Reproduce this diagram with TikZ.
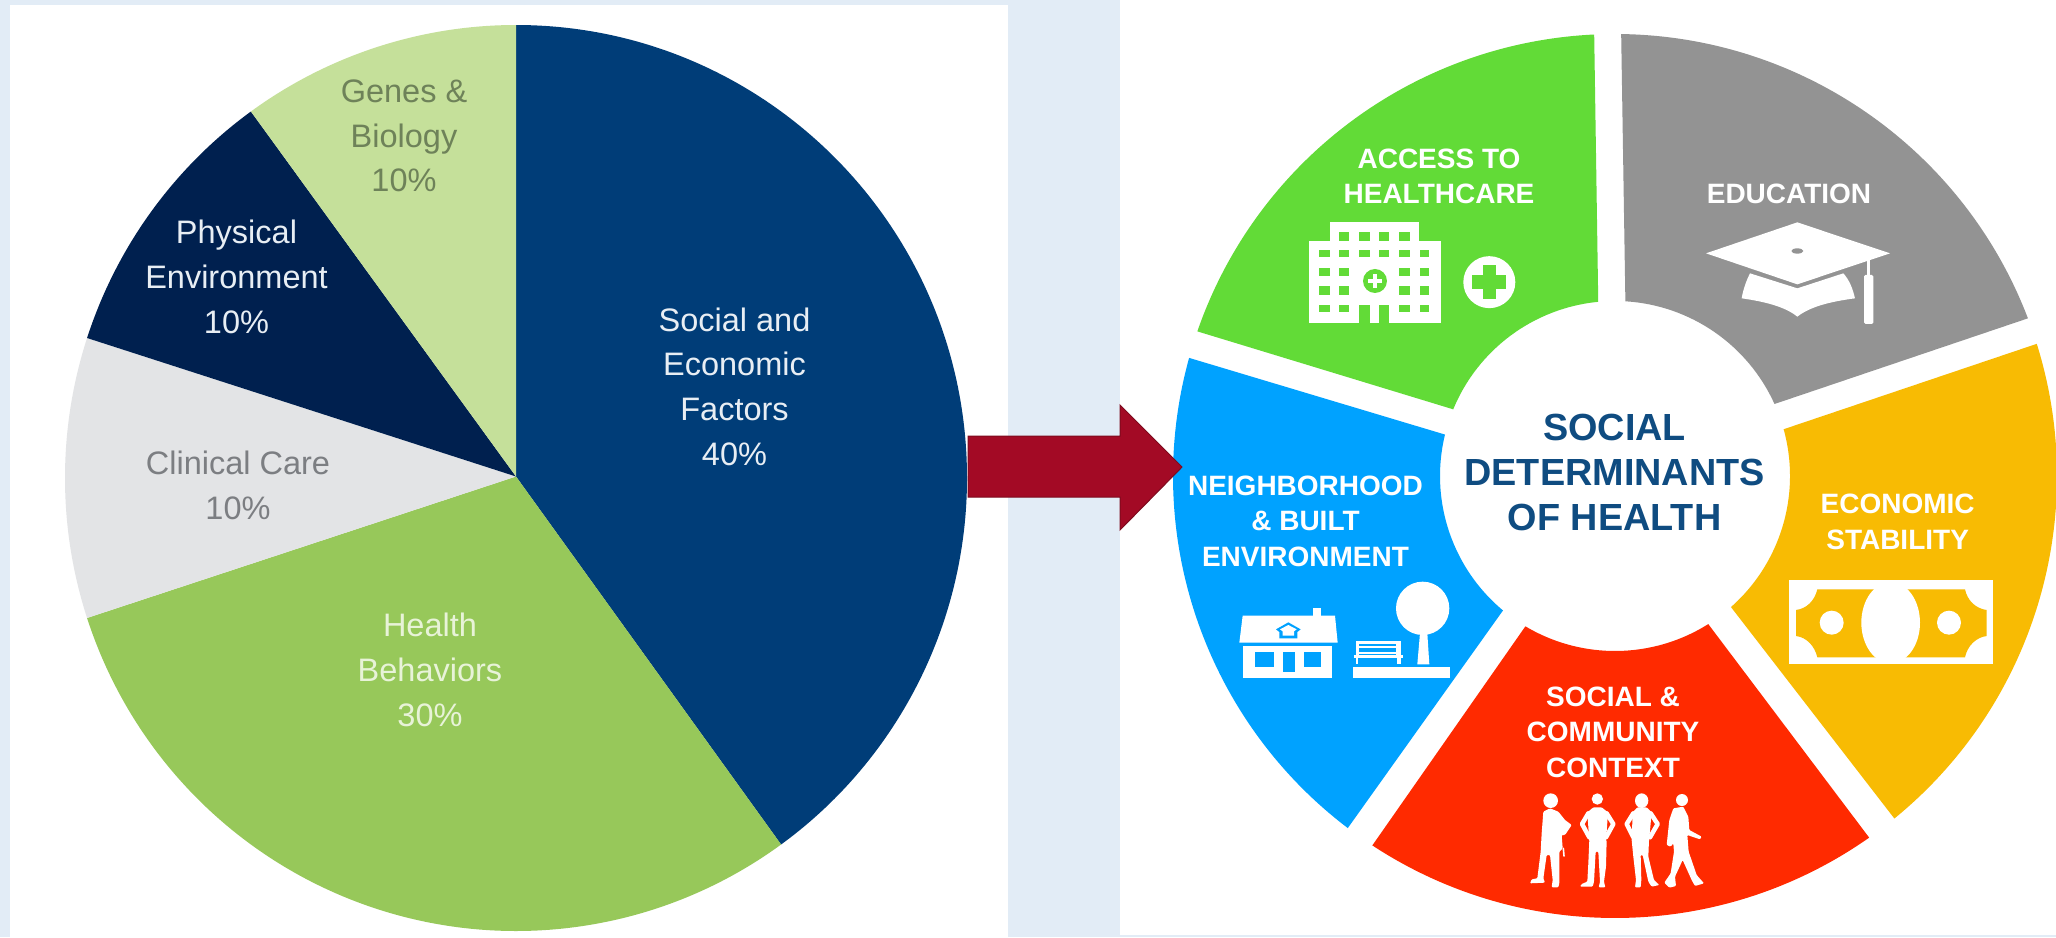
\documentclass[tikz,border=0pt]{standalone}
\usepackage{fontspec}
\setmainfont{Liberation Sans}
\definecolor{panelblue}{HTML}{E2ECF6}
\definecolor{pieDark}{HTML}{003D78}
\definecolor{pieGreen}{HTML}{97C85A}
\definecolor{pieGrey}{HTML}{E3E4E6}
\definecolor{pieNavy}{HTML}{00204F}
\definecolor{piePale}{HTML}{C5E09A}
\definecolor{wGreen}{HTML}{62DB37}
\definecolor{wGrey}{HTML}{939393}
\definecolor{wYellow}{HTML}{F8BB03}
\definecolor{wRed}{HTML}{FF2A00}
\definecolor{wBlue}{HTML}{00A2FF}
\definecolor{arrowRed}{HTML}{A30A25}
\definecolor{arrowEdge}{HTML}{7E0A1E}
\definecolor{titleBlue}{HTML}{0F4C81}
\definecolor{genesText}{HTML}{6E8259}
\definecolor{careText}{HTML}{7C7E82}
\definecolor{healthText}{HTML}{E8F3D8}
\definecolor{lightText}{HTML}{E8EEF4}
\tikzset{
  pielabel/.style={align=center,inner sep=0pt,font=\fontsize{32.5}{44.7}\selectfont},
  wheellabel/.style={align=center,inner sep=0pt,text=white,font=\fontsize{28}{35.4}\selectfont\bfseries},
  titlelabel/.style={align=center,inner sep=0pt,text=titleBlue,font=\fontsize{37.8}{44.8}\selectfont\bfseries},
  iconpx/.style={x=0.3333pt,y=-0.3333pt},
  limb/.style={draw=white,line cap=round,line join=round}
}
\newcommand{\pieslice}[3]{\fill[#1] (0,1.5) -- (#2:451 and 453) arc[start angle=#2,end angle=#3,x radius=451,y radius=453] -- cycle;}
\newcommand{\wheelseg}[5]{\fill[#1] (#2:442) arc[start angle=#2,end angle=#3,radius=442] -- (#5:175) arc[start angle=#5,end angle=#4,radius=175] -- cycle;}
\begin{document}
\begin{tikzpicture}[x=1pt,y=-1pt]
\useasboundingbox (0,0) rectangle (2056,937);
\fill[panelblue] (0,0) rectangle (2056,937);
\fill[white] (10,5) rectangle (1008,937);
\fill[white] (1120,0) rectangle (2056,935);
% pie
\begin{scope}[shift={(516,478)},y=1pt]
\pieslice{pieDark}{90}{-54}
\pieslice{pieGreen}{-54}{-162}
\pieslice{pieGrey}{-162}{-198}
\pieslice{pieNavy}{162}{126}
\pieslice{piePale}{126}{90}
\end{scope}
\node[pielabel,text=lightText] (social) at (734.5,386.5) {Social and\\Economic\\Factors\\40\%};
\node[pielabel,text=genesText] (genes) at (404,136) {Genes \&\\Biology\\10\%};
\node[pielabel,text=lightText] (phys) at (236.5,277) {Physical\\Environment\\10\%};
\node[pielabel,text=careText] (care) at (238,485.5) {Clinical Care\\10\%};
\node[pielabel,text=healthText] (health) at (430,670) {Health\\Behaviors\\30\%};
% wheel
\begin{scope}[shift={(1615,476)},y=1pt]
\clip (-500,-500) rectangle (441,500);
\wheelseg{wGreen}{92.7}{160.9}{95.5}{157.6}
\wheelseg{wGrey}{89.2}{20.9}{86.6}{24.3}
\wheelseg{wYellow}{17.4}{-50.8}{15.5}{-48.5}
\wheelseg{wRed}{-54.9}{-123.3}{-57.8}{-120.8}
\wheelseg{wBlue}{232.8}{164.5}{230.2}{166.3}
\end{scope}
% arrow
\draw[fill=arrowRed,draw=arrowEdge,line width=1pt,line join=miter]
  (968,436) -- (1120,436) -- (1120,405) -- (1182,467) -- (1120,530) -- (1120,497) -- (968,497) -- cycle;
% wheel text
\node[titlelabel] (title) at (1614.6,472.5) {SOCIAL\\DETERMINANTS\\OF HEALTH};
\node[wheellabel] (access) at (1439,176.5) {ACCESS TO\\HEALTHCARE};
\node[wheellabel] (edu) at (1789,193.5) {EDUCATION};
\node[wheellabel] (econ) at (1897.6,522) {ECONOMIC\\STABILITY};
\node[wheellabel] (comm) at (1613,732) {SOCIAL \&\\COMMUNITY\\CONTEXT};
\node[wheellabel] (hood) at (1305.5,521) {NEIGHBORHOOD\\\& BUILT\\ENVIRONMENT};
% hospital
\begin{scope}[shift={(1200,200)},iconpx]
\fill[white] (327,124) rectangle (722,370);
\fill[white] (390,67) rectangle (658,124);
\foreach \a/\b in {418/447,476/511,538/567,596/630} \fill[wGreen] (\a,95) rectangle (\b,123);
\foreach \a/\b in {356/390,418/447,476/511,538/567,596/630,660/688} \fill[wGreen] (\a,150) rectangle (\b,172);
\foreach \a/\b in {356/390,418/447,596/630,660/688} {
  \fill[wGreen] (\a,203) rectangle (\b,228);
  \fill[wGreen] (\a,258) rectangle (\b,285);
  \fill[wGreen] (\a,314) rectangle (\b,335);
}
\fill[wGreen] (476,314) rectangle (511,370);
\fill[wGreen] (538,314) rectangle (567,370);
\fill[wGreen] (525,243) circle[radius=36];
\fill[white] (505,238) rectangle (545,248);
\fill[white] (520,223) rectangle (530,263);
\fill[white] (868,246.5) circle[radius=78];
\fill[wGreen] (817,226.5) rectangle (919,266.5);
\fill[wGreen] (848,195.5) rectangle (888,297.5);
\end{scope}
% cap
\begin{scope}[shift={(1680,200)},iconpx]
\fill[white] (78,160) -- (352,67) -- (630,160) -- (352,253) -- cycle;
\fill[wGrey] (352,153) ellipse[x radius=18,y radius=8];
\fill[white] (210,220) -- (352,265) -- (490,220) .. controls (508,240) and (518,265) .. (525,295)
  .. controls (450,305) and (390,320) .. (352,350) .. controls (315,320) and (255,305) .. (185,295)
  .. controls (190,265) and (200,240) .. (210,220) -- cycle;
\fill[white] (560,180) rectangle (570,225);
\fill[white,rounded corners=1.5pt] (552,225) rectangle (580,372);
\end{scope}
% banknote
\begin{scope}[shift={(1770,560)},iconpx]
\fill[white] (56,60) rectangle (670,313);
\fill[wYellow] (142,88) -- (585,88) .. controls (592,122) and (618,146) .. (650,150) -- (650,228)
  .. controls (618,232) and (592,258) .. (585,292) -- (142,292) .. controls (134,258) and (110,232) .. (78,228)
  -- (78,150) .. controls (110,146) and (134,122) .. (142,88) -- cycle;
\fill[white] (362,188) ellipse[x radius=88,y radius=122];
\fill[white] (185,188) circle[radius=36];
\fill[white] (537,188) circle[radius=36];
\end{scope}
% people
\begin{scope}[shift={(1500,780)},iconpx]
\fill[white] (152,62) circle[radius=22];
\fill[white,rounded corners=1pt] (130,95) -- (150,85) -- (175,95) -- (195,120) -- (215,135) -- (195,165) -- (185,165) -- (188,205) -- (178,215)
  -- (178,310) -- (175,322) -- (155,322) -- (158,300) -- (150,225) -- (140,225) -- (130,295) -- (135,308) -- (90,310) -- (95,298) -- (112,295) -- (122,215) -- (125,160) -- cycle;
\draw[limb,line width=1.6pt] (190,205) -- (192,228);
\fill[white] (292,57) circle[radius=17];
\fill[white,rounded corners=1pt] (262,97) -- (280,82) -- (305,82) -- (324,97) -- (318,185) -- (268,185) -- cycle;
\draw[limb,line width=4.5pt] (265,100) -- (246,132) -- (268,172);
\draw[limb,line width=4.5pt] (320,100) -- (340,132) -- (318,172);
\fill[white,rounded corners=1pt] (268,180) -- (320,180) -- (318,260) -- (312,305) -- (316,322) -- (296,322) -- (300,305) -- (295,215) -- (287,215) -- (282,305) -- (278,320) -- (240,320) -- (245,312) -- (262,305) -- (265,250) -- cycle;
\fill[white] (425,62) ellipse[x radius=20,y radius=22];
\fill[white,rounded corners=1pt] (398,97) -- (412,82) -- (440,82) -- (455,97) -- (447,185) -- (395,185) -- cycle;
\draw[limb,line width=4.5pt] (400,100) -- (380,132) -- (400,172);
\draw[limb,line width=4.5pt] (452,100) -- (473,132) -- (450,172);
\fill[white,rounded corners=1pt] (395,180) -- (447,180) -- (445,230) -- (462,300) -- (478,315) -- (455,320) -- (445,305) -- (428,225) -- (422,225) -- (424,300) -- (422,322) -- (405,322) -- (408,300) -- (400,230) -- cycle;
\fill[white] (546,60) circle[radius=18];
\fill[white,rounded corners=1pt] (520,85) -- (550,80) -- (565,110) -- (568,150) -- (605,170) -- (600,178) -- (562,165) -- (566,215) -- (590,285) -- (612,310) -- (585,318) -- (575,300) -- (548,240) -- (525,290) -- (528,318) -- (508,323) -- (493,308) -- (512,280) -- (522,215) -- (520,190) -- (512,200) -- (500,195) -- (508,120) -- cycle;
\end{scope}
% house and park
\begin{scope}[shift={(1220,570)},iconpx]
\fill[white] (280,115) rectangle (303,140);
\fill[white] (68,137) -- (345,137) -- (353,218) -- (58,218) -- cycle;
\fill[white] (70,228) rectangle (337,325);
\fill[wBlue] (105,247) rectangle (162,290);
\fill[wBlue] (190,247) rectangle (225,305);
\fill[wBlue] (253,247) rectangle (303,290);
\fill[wBlue] (168,178) -- (205,157) -- (242,178) -- (232,186) -- (232,205) -- (178,205) -- (178,186) -- cycle;
\fill[white] (180,178) -- (205,165) -- (230,178) -- (222,184) -- (222,197) -- (188,197) -- (188,184) -- cycle;
\fill[white] (400,291) rectangle (690,325);
\fill[white] (408,213) rectangle (542,257);
\fill[wBlue] (416,222) rectangle (528,228);
\fill[wBlue] (416,235) rectangle (528,245);
\fill[wBlue] (416,251) rectangle (528,256);
\fill[white] (402,256) rectangle (550,263);
\fill[white] (408,263) rectangle (415,283);
\fill[white] (530,263) rectangle (542,283);
\fill[white] (600,190) -- (622,190) -- (628,283) -- (592,283) -- cycle;
\fill[white] (608,115) circle[radius=80];
\end{scope}
\end{tikzpicture}
\end{document}
